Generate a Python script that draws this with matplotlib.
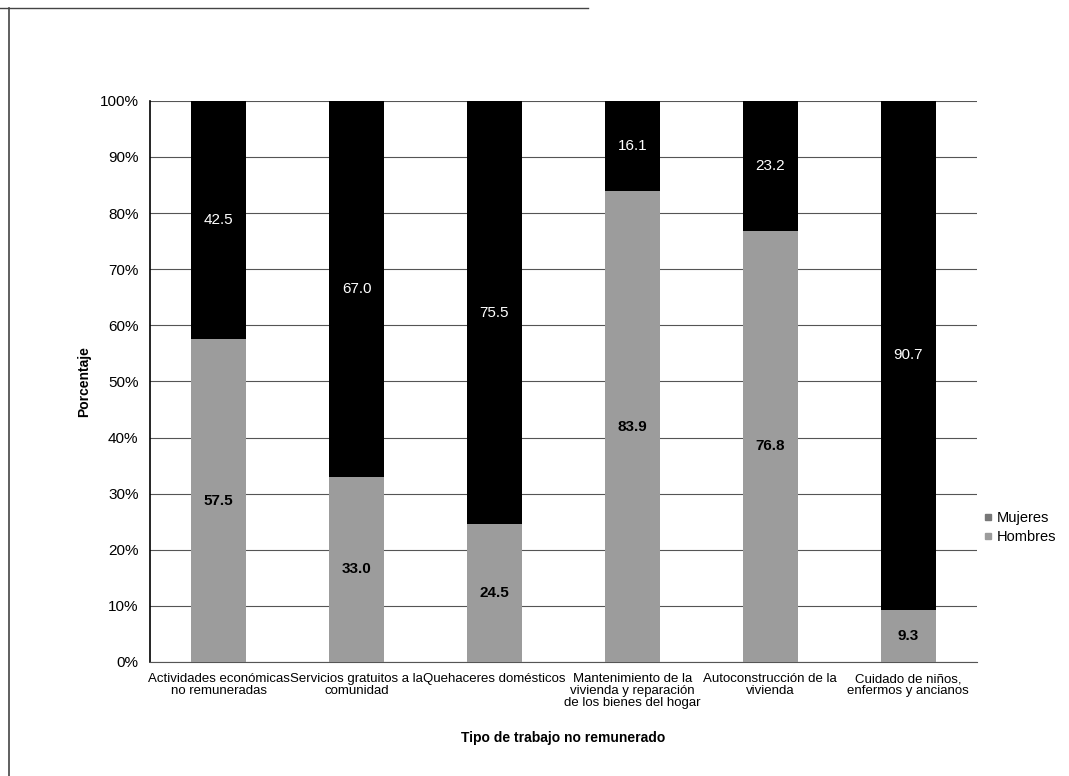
import numpy as np
import matplotlib.pyplot as plt
from matplotlib.lines import Line2D

categorias = ["Actividades económicas\nno remuneradas",
              "Servicios gratuitos a la\ncomunidad",
              "Quehaceres domésticos",
              "Mantenimiento de la\nvivienda y reparación\nde los bienes del hogar",
              "Autoconstrucción de la\nvivienda",
              "Cuidado de niños,\nenfermos y ancianos"]
hombres = [57.5, 33.0, 24.5, 83.9, 76.8, 9.3]
mujeres = [42.5, 67.0, 75.5, 16.1, 23.2, 90.7]
yticks = [0, 10, 20, 30, 40, 50, 60, 70, 80, 90, 100]

plt.rcParams['font.family'] = ['Liberation Sans', 'DejaVu Sans']

fig = plt.figure(figsize=(10.69, 7.76), dpi=100)
ax = fig.add_axes([0.140, 0.147, 0.774, 0.723])

x = np.arange(len(categorias))
w = 0.40
gris = '#9c9c9c'
ax.bar(x, hombres, w, color=gris, zorder=3)
ax.bar(x, mujeres, w, bottom=hombres, color='black', zorder=3)

for i in range(len(x)):
    ax.text(x[i], hombres[i] / 2, f"{hombres[i]:.1f}", ha='center', va='center',
            fontsize=11, color='black', fontweight='bold', zorder=4)
    ax.text(x[i], hombres[i] + mujeres[i] / 2, f"{mujeres[i]:.1f}", ha='center',
            va='center', fontsize=11, color='white', zorder=4)

ax.set_xlim(-0.5, 5.5)
ax.set_ylim(0, 100)
ax.set_yticks(yticks)
ax.set_yticklabels([f"{v}%" for v in yticks], fontsize=11)
ax.set_xticks(x)
ax.set_xticklabels(categorias, fontsize=9.5, linespacing=1.0)
ax.tick_params(axis='both', length=0, pad=8)
ax.yaxis.grid(True, color='#555555', linewidth=0.8, zorder=0)
for s in ['top', 'right']:
    ax.spines[s].set_visible(False)
ax.spines['left'].set_linewidth(1.2)
ax.spines['bottom'].set_linewidth(0.8)
ax.spines['bottom'].set_color('#555555')

ax.set_ylabel("Porcentaje", fontsize=10, fontweight='bold', labelpad=6)
ax.set_xlabel("Tipo de trabajo no remunerado", fontsize=10, fontweight='bold', labelpad=16)

handles = [Line2D([], [], marker='s', linestyle='', color='#777777', markersize=5),
           Line2D([], [], marker='s', linestyle='', color=gris, markersize=5)]
fig.legend(handles, ["Mujeres", "Hombres"], loc='center left',
           bbox_to_anchor=(0.905, 0.32), frameon=False, fontsize=10.5,
           handletextpad=0.1, labelspacing=0.3, handlelength=1.0)

# marco del recuadro escaneado
fig.add_artist(Line2D([0.008, 0.008], [0.0, 0.99], color='#444444', linewidth=1.2))
fig.add_artist(Line2D([0.0, 0.55], [0.99, 0.99], color='#444444', linewidth=1.0))

fig.savefig("out.png", dpi=100)
